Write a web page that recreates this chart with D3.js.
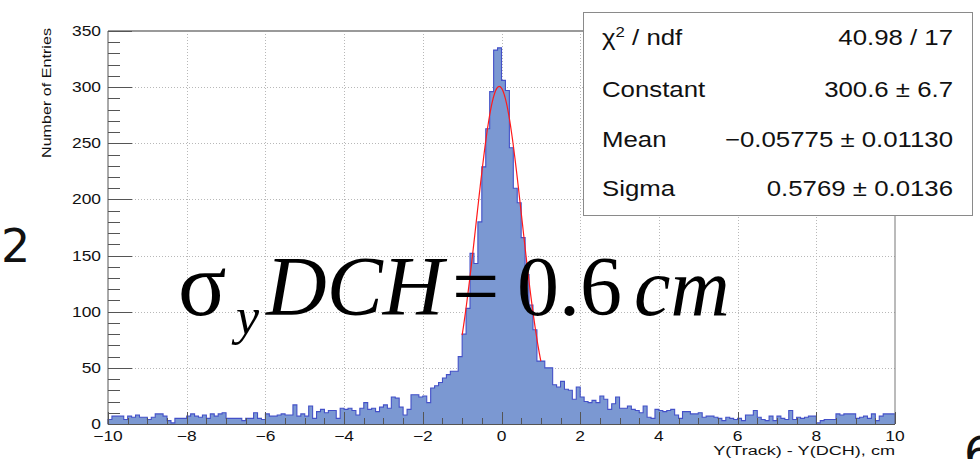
<!DOCTYPE html>
<html><head><meta charset="utf-8">
<script src="https://cdn.jsdelivr.net/npm/d3@7"></script>
<style>body{margin:0;background:#fff}svg{display:block}</style>
</head><body>
<svg id="c" width="980" height="459"></svg>
<script>
// ---------- data ----------
const binStart = -10, binStep = 0.1;
const counts = [
  4,7,7,7,4,7,6,8,6,6, 4,6,9,9,7,3,1,5,5,5, 7,9,7,6,8,5,9,7,9,10, 5,5,5,5,3,5,5,10,5,4,
  9,7,7,8,9,8,8,17,7,9, 7,16,5,11,13,10,12,12,5,14, 13,14,12,8,14,19,13,14,11,15, 17,14,24,23,15,8,13,26,26,24,
  25,19,32,34,37,41,44,47,47,60, 80,103,152,143,180,229,263,296,333,335, 306,297,246,210,197,166,133,106,84,56, 56,50,50,35,33,38,31,30,22,33,
  24,20,19,21,19,25,22,13,18,24, 14,14,16,13,12,10,16,6,5,13, 12,11,12,13,8,5,11,11,9,9, 10,6,7,7,6,5,3,6,5,4,
  5,3,8,8,12,6,4,3,7,3, 7,5,4,12,4,6,5,6,7,7, 1,3,4,4,4,9,8,9,9,9, 5,6,7,5,9,3,7,9,9,9
];
const fitConstant = 300.6, fitMean = -0.05775, fitSigma = 0.5769;
const fitRange = [-1, 1];
const xDomain = [-10, 10];
const yDomain = [0, 350];
const xTickValues = [-10,-8,-6,-4,-2,0,2,4,6,8,10];
const yTickValues = [0,50,100,150,200,250,300,350];
const statsLabels = ["Constant", "Mean", "Sigma"];
const statsValues = ["40.98 / 17", "300.6 \u00b1 6.7", "\u22120.05775 \u00b1 0.01130", "0.5769 \u00b1 0.0136"];
const xTitle = "Y(Track) - Y(DCH), cm";
const yTitle = "Number of Entries";

// ---------- layout ----------
const svg = d3.select("#c");
const L = 108, R = 895, T = 31, B = 424;
const x = d3.scaleLinear().domain(xDomain).range([L, R]);
const y = d3.scaleLinear().domain(yDomain).range([B, T]);
const SANS = "'Liberation Sans', Arial, Helvetica, sans-serif";
const SERIF = "'Liberation Serif', 'Times New Roman', serif";
const SX = 1.2;

function txt(g, px, py, s, o = {}) {
  return g.append("text")
    .attr("transform", `translate(${px},${py}) scale(${o.sx ?? SX},1)`)
    .attr("text-anchor", o.anchor || "start")
    .attr("font-family", o.family || SANS)
    .attr("font-size", o.size || 14)
    .attr("font-style", o.style || "normal")
    .attr("fill", o.fill || "#111")
    .text(s);
}

// grid
const grid = svg.append("g").attr("stroke", "#b8b8b8").attr("stroke-width", 1).attr("stroke-dasharray", "1,2");
grid.selectAll("line.v").data(xTickValues.filter(v => v > xDomain[0] && v < xDomain[1])).join("line")
  .attr("x1", d => Math.round(x(d)) + 0.5).attr("x2", d => Math.round(x(d)) + 0.5).attr("y1", T).attr("y2", B);
grid.selectAll("line.h").data(yTickValues.filter(v => v > yDomain[0] && v < yDomain[1])).join("line")
  .attr("y1", d => Math.round(y(d)) + 0.5).attr("y2", d => Math.round(y(d)) + 0.5).attr("x1", L).attr("x2", R);

// histogram
const steps = [];
counts.forEach((c, i) => {
  const lo = binStart + i * binStep, hi = binStart + (i + 1) * binStep;
  steps.push([lo, c], [hi, c]);
});
svg.append("path").datum(steps)
  .attr("fill", "#7b98d2")
  .attr("d", d3.area().x(d => x(d[0])).y0(y(0)).y1(d => y(d[1])));
const outline = [[xDomain[0], 0], ...steps, [xDomain[1], 0]];
svg.append("path").datum(outline)
  .attr("fill", "none").attr("stroke", "#4350c8").attr("stroke-width", 1.1)
  .attr("d", d3.line().x(d => x(d[0])).y(d => y(d[1])));

// fit curve
const fitPts = d3.range(0, 201).map(k => {
  const xv = fitRange[0] + (fitRange[1] - fitRange[0]) * k / 200;
  return [xv, fitConstant * Math.exp(-0.5 * Math.pow((xv - fitMean) / fitSigma, 2))];
});
svg.append("path").datum(fitPts)
  .attr("fill", "none").attr("stroke", "#ff1a1a").attr("stroke-width", 1.2)
  .attr("d", d3.line().x(d => x(d[0])).y(d => y(d[1])));

// frame
svg.append("line").attr("x1", L).attr("x2", R).attr("y1", T).attr("y2", T).attr("stroke", "#9a9a9a").attr("stroke-width", 2);
svg.append("line").attr("x1", R).attr("x2", R).attr("y1", T).attr("y2", B).attr("stroke", "#777").attr("stroke-width", 1);

// axes (ticks drawn inward)
const ax = svg.append("g").attr("stroke", "#555").attr("stroke-width", 1);
ax.append("line").attr("x1", L).attr("x2", L).attr("y1", T).attr("y2", B + 0.5);
ax.append("line").attr("x1", L).attr("x2", R).attr("y1", B + 0.5).attr("y2", B + 0.5);
const yMinor = d3.range(yDomain[0], yDomain[1] + 0.01, 10);
ax.selectAll("line.ym").data(yMinor).join("line")
  .attr("x1", L).attr("x2", d => L + (d % 50 === 0 ? 24 : 12))
  .attr("y1", d => Math.round(y(d)) + 0.5).attr("y2", d => Math.round(y(d)) + 0.5);
const xMinor = d3.range(xDomain[0], xDomain[1] + 0.01, 0.5);
ax.selectAll("line.xm").data(xMinor).join("line")
  .attr("x1", d => Math.round(x(d)) + 0.5).attr("x2", d => Math.round(x(d)) + 0.5)
  .attr("y1", B).attr("y2", d => B - (Math.abs(d % 2) < 1e-9 ? 12 : 6));

// tick labels
const tl = svg.append("g");
yTickValues.forEach(v => txt(tl, 101, y(v) + 5, String(v), { anchor: "end", size: 14.5 }));
xTickValues.forEach(v => txt(tl, x(v), 441, v < 0 ? "\u2212" + Math.abs(v) : String(v), { anchor: "middle", size: 14.5 }));

// axis titles
txt(svg, R, 455, xTitle, { anchor: "end", size: 13.5, sx: 1.34 });
svg.append("text")
  .attr("transform", `translate(51,28) rotate(-90)`)
  .attr("text-anchor", "end").attr("font-family", SANS).attr("font-size", 13)
  .attr("textLength", 130).attr("lengthAdjust", "spacingAndGlyphs")
  .attr("fill", "#111").text(yTitle);

// stats box
svg.append("rect").attr("x", 583.5).attr("y", 12.5).attr("width", 389).attr("height", 203)
  .attr("fill", "#fff").attr("stroke", "#8a8a8a").attr("stroke-width", 1);
const st = svg.append("g");
const rowY = [45, 97, 147, 196];
const chi = txt(st, 602, rowY[0], "", { size: 21.5 });
chi.append("tspan").text("\u03c7");
chi.append("tspan").attr("dy", -8).attr("font-size", 14).text("2");
chi.append("tspan").attr("dy", 8).text(" / ndf");
statsLabels.forEach((s, i) => txt(st, 602, rowY[i + 1], s, { size: 21.5 }));
statsValues.forEach((s, i) => txt(st, 953, rowY[i], s, { anchor: "end", size: 21.5 }));

// overlay formula
const f = svg.append("g").attr("fill", "#000").attr("font-family", SERIF);
f.append("text").attr("x", 178).attr("y", 315).attr("font-size", 90).text("\u03c3");
f.append("text").attr("x", 236).attr("y", 334).attr("font-size", 52).attr("font-style", "italic").text("y");
f.append("text").attr("x", 266).attr("y", 315).attr("font-size", 84).attr("font-style", "italic").text("DCH");
f.append("text").attr("x", 452).attr("y", 315).attr("font-size", 84).text("=");
f.append("text").attr("x", 517).attr("y", 315).attr("font-size", 84).text("0.6");
f.append("text").attr("x", 634).attr("y", 315).attr("font-size", 82).attr("font-style", "italic").text("cm");

// slide fragments
svg.append("text").attr("x", 1).attr("y", 262).attr("font-family", "'DejaVu Sans', sans-serif").attr("font-size", 46).attr("fill", "#111").text("2");
svg.append("text").attr("x", 964).attr("y", 470).attr("font-family", "'DejaVu Sans', sans-serif").attr("font-size", 46).attr("fill", "#111").text("6");
</script>
</body></html>
